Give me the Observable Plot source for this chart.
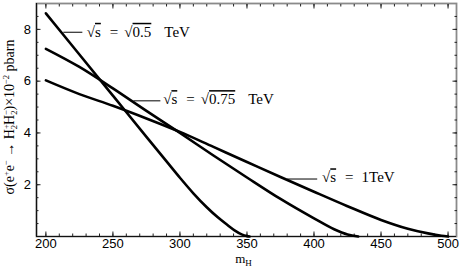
<!DOCTYPE html>
<html><head><meta charset="utf-8">
<script src="https://cdn.jsdelivr.net/npm/d3@7"></script>
<script src="https://cdn.jsdelivr.net/npm/@observablehq/plot@0.6"></script>
<style>body{margin:0;background:#fff}</style>
</head><body><div id="chart"></div>
<script>
// sqrt(s) = sqrt(0.5) TeV
const mH_05 = [200, 225, 250, 275, 290, 300, 310, 320, 328, 335, 341, 346, 350, 352];
const sig_05 = [8.62, 7.03, 5.44, 3.85, 2.9, 2.27, 1.67, 1.13, 0.75, 0.46, 0.23, 0.08, 0.015, 0];
// sqrt(s) = sqrt(0.75) TeV
const mH_075 = [200, 225, 250, 275, 300, 325, 350, 375, 400, 415, 425, 433];
const sig_075 = [7.25, 6.55, 5.72, 4.85, 4.0, 3.13, 2.28, 1.45, 0.7, 0.28, 0.08, 0];
// sqrt(s) = 1 TeV
const mH_1 = [200, 225, 250, 275, 300, 325, 350, 375, 400, 425, 450, 470, 485, 495, 500];
const sig_1 = [6.03, 5.5, 5.05, 4.56, 4.04, 3.46, 2.88, 2.3, 1.73, 1.17, 0.64, 0.3, 0.12, 0.03, 0];

const seriesNames = ["√s = √0.5 TeV", "√s = √0.75 TeV", "√s = 1TeV"];
const xTicks = [200, 250, 300, 350, 400, 450, 500];
const yTicks = [2, 4, 6, 8];
const xMinorTicks = d3.range(200, 501, 10);
const yMinorTicks = d3.range(0.5, 9, 0.5);

// label annotations (leader line from x1 to x2 at y, text starts at tx)
const labelText = seriesNames;
const labelX1 = [213, 265.3, 380];
const labelX2 = [227.2, 285.4, 402.4];
const labelY = [7.89, 5.24, 2.22];
const labelTX = [230.5, 287.5, 406];
const labelTY = [7.9, 5.3, 2.28];

const yLabel = "σ(e+e- → H2+H2-)×10-2 pbarn";
const xLabel = "mH";

const rows = [];
[[mH_05, sig_05], [mH_075, sig_075], [mH_1, sig_1]].forEach(([xs, ys], k) =>
  xs.forEach((x, i) => rows.push({series: seriesNames[k], mH: x, sigma: ys[i]})));
const labels = labelText.map((t, i) => ({text: t, x1: labelX1[i], x2: labelX2[i], y: labelY[i], tx: labelTX[i], ty: labelTY[i]}));

const chart = Plot.plot({
  width: 464, height: 273,
  marginLeft: 36, marginRight: 8, marginTop: 3, marginBottom: 37,
  x: {domain: [193, 506.3]},
  y: {domain: [0, 9]},
  style: {fontFamily: "'Liberation Sans', Arial, sans-serif", fontSize: "13px", color: "#000", background: "#fff", overflow: "visible"},
  marks: [
    Plot.frame({stroke: "#8a8a8a", strokeWidth: 1.8}),
    Plot.ruleX([193], {stroke: "#111", strokeWidth: 1.2}),
    Plot.ruleY([0], {stroke: "#111", strokeWidth: 1.2}),
    Plot.axisX({ticks: xTicks, tickSize: -4.5, tickPadding: 7, label: null, tickFormat: d => String(d), stroke: "#222"}),
    Plot.axisX({ticks: xMinorTicks, tickSize: -2.5, label: null, tickFormat: () => "", stroke: "#222"}),
    Plot.axisX({anchor: "top", ticks: xTicks, tickSize: -4.5, label: null, tickFormat: () => "", stroke: "#222"}),
    Plot.axisX({anchor: "top", ticks: xMinorTicks, tickSize: -2.5, label: null, tickFormat: () => "", stroke: "#222"}),
    Plot.axisY({ticks: yTicks, tickSize: -4.5, tickPadding: 10, label: null, tickFormat: d => String(d), stroke: "#222"}),
    Plot.axisY({ticks: yMinorTicks, tickSize: -2.5, label: null, tickFormat: () => "", stroke: "#222"}),
    Plot.axisY({anchor: "right", ticks: yTicks, tickSize: -4.5, label: null, tickFormat: () => "", stroke: "#222"}),
    Plot.axisY({anchor: "right", ticks: yMinorTicks, tickSize: -2.5, label: null, tickFormat: () => "", stroke: "#222"}),
    Plot.line(rows, {x: "mH", y: "sigma", z: "series", stroke: "#000", strokeWidth: 2.6, curve: "monotone-x"}),
    Plot.link(labels, {x1: "x1", x2: "x2", y1: "y", y2: "y", stroke: "#000", strokeWidth: 1}),
    Plot.text(labels, {x: "tx", y: "ty", text: "text", textAnchor: "start", lineAnchor: "middle", fontFamily: "'Liberation Serif', serif", fontSize: 15, fill: "#000"}),
    Plot.text([yLabel], {frameAnchor: "left", textAnchor: "middle", lineAnchor: "middle", dx: -27, dy: -3, rotate: -90, text: d => d, fontFamily: "'Liberation Serif', serif", fontSize: 14, fill: "#000"}),
    Plot.text([xLabel], {frameAnchor: "bottom", dy: 26, dx: -3, text: d => d, fontFamily: "'Liberation Serif', serif", fontSize: 13, fill: "#000"})
  ]
});
document.getElementById("chart").append(chart);

// rich text: overlines for radicands, sub/superscripts
const svgNS = "http://www.w3.org/2000/svg";
function rich(el, parts) {
  el.textContent = "";
  let cur = 0;
  for (const p of parts) {
    const t = document.createElementNS(svgNS, "tspan");
    t.textContent = p.t;
    const shift = p.shift || 0;
    if (shift !== cur) { t.setAttribute("dy", String(shift - cur)); cur = shift; }
    if (p.dx) t.setAttribute("dx", String(p.dx));
    if (p.size) t.setAttribute("font-size", String(p.size));
    if (p.over) t.setAttribute("text-decoration", "overline");
    el.appendChild(t);
  }
}
const sup = (t, dx) => ({t, shift: -5, size: 8.5, dx});
const sub = (t, dx) => ({t, shift: 3, size: 8.5, dx});
chart.querySelectorAll("text").forEach(el => {
  const s = el.textContent;
  if (s === seriesNames[0]) rich(el, [{t: "√"}, {t: "s", over: true}, {t: "=", dx: 9}, {t: "√", dx: 6}, {t: "0.5", over: true}, {t: "TeV", dx: 13}]);
  else if (s === seriesNames[1]) rich(el, [{t: "√"}, {t: "s", over: true}, {t: "=", dx: 9}, {t: "√", dx: 6}, {t: "0.75", over: true}, {t: "TeV", dx: 13}]);
  else if (s === seriesNames[2]) rich(el, [{t: "√"}, {t: "s", over: true}, {t: "=", dx: 9}, {t: "1TeV", dx: 8}]);
  else if (s === xLabel) rich(el, [{t: "m"}, {t: "H", shift: 3, size: 9}]);
  else if (s === yLabel) rich(el, [
    {t: "σ(e"}, sup("+"), {t: "e"}, sup("−"), {t: " → H"}, sup("+"), sub("2", -4.8),
    {t: "H"}, sup("−"), sub("2", -4.8), {t: ")×10"}, sup("−2"), {t: " pbarn"}
  ]);
});
</script>
</body></html>
